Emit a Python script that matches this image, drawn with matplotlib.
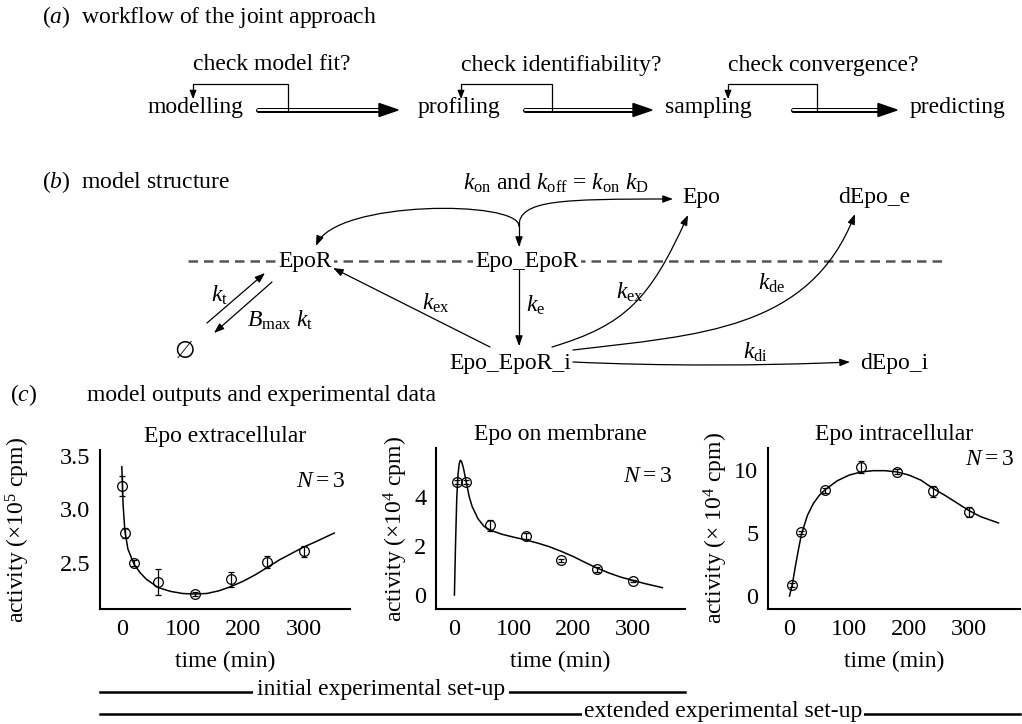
import numpy as np
import matplotlib
matplotlib.use("Agg")
import matplotlib.pyplot as plt
from matplotlib.patches import FancyArrowPatch, Polygon
from matplotlib.path import Path

plt.rcParams['font.family'] = ['Liberation Serif', 'DejaVu Serif']
plt.rcParams['mathtext.fontset'] = 'custom'
plt.rcParams['mathtext.rm'] = 'Liberation Serif'
plt.rcParams['mathtext.it'] = 'Liberation Serif:italic'
plt.rcParams['font.size'] = 17

# ---- data ----
# Epo extracellular (x10^5 cpm)
ext_t = [0, 5, 20, 60, 120, 180, 240, 300]
ext_val = [3.22, 2.78, 2.50, 2.32, 2.21, 2.35, 2.51, 2.61]
ext_err = [0.09, 0.05, 0.03, 0.12, 0.02, 0.07, 0.06, 0.05]
ext_fit_t = [0, 2, 5, 10, 20, 30, 40, 60, 80, 100, 120, 140, 160, 180, 200, 220, 240, 260, 280, 300, 320, 350]
ext_fit = [3.40, 3.05, 2.80, 2.63, 2.49, 2.41, 2.35, 2.27, 2.235, 2.215, 2.21, 2.215, 2.24, 2.28,
           2.33, 2.39, 2.46, 2.53, 2.59, 2.65, 2.70, 2.78]

# Epo on membrane (x10^4 cpm)
mem_t = [5, 20, 60, 120, 180, 240, 300]
mem_val = [4.6, 4.6, 2.85, 2.42, 1.42, 1.05, 0.57]
mem_err = [0.08, 0.08, 0.22, 0.12, 0.06, 0.10, 0.05]
mem_fit_t = [0, 2, 4, 6, 8, 10, 12, 15, 20, 25, 30, 40, 50, 60, 80, 100, 120, 140, 160, 180,
             200, 220, 240, 260, 280, 300, 320, 350]
mem_fit = [0.0, 2.2, 4.0, 4.9, 5.35, 5.5, 5.45, 5.2, 4.6, 4.0, 3.6, 3.1, 2.8, 2.65, 2.48, 2.36,
           2.25, 2.12, 1.97, 1.78, 1.57, 1.33, 1.10, 0.90, 0.73, 0.60, 0.47, 0.30]

# Epo intracellular (x10^4 cpm)
int_t = [5, 20, 60, 120, 180, 240, 300]
int_val = [0.9, 5.05, 8.4, 10.25, 9.85, 8.3, 6.65]
int_err = [0.15, 0.15, 0.2, 0.45, 0.2, 0.45, 0.4]
int_fit_t = [0, 5, 10, 15, 20, 30, 40, 50, 60, 80, 100, 120, 140, 160, 180, 200, 220, 240,
             260, 280, 300, 320, 350]
int_fit = [0.0, 1.0, 2.4, 3.7, 4.9, 6.4, 7.35, 8.0, 8.45, 9.15, 9.6, 9.85, 9.95, 9.95, 9.85,
           9.6, 9.2, 8.55, 8.0, 7.4, 6.8, 6.3, 5.8]

workflow_steps = ['modelling', 'profiling', 'sampling', 'predicting']
workflow_checks = ['check model fit?', 'check identifiability?', 'check convergence?']

W, H = 1022, 724
fig = plt.figure(figsize=(W / 100, H / 100), dpi=100)
bg = fig.add_axes([0, 0, 1, 1])
bg.set_xlim(0, W)
bg.set_ylim(H, 0)
bg.axis('off')


def arrow(verts, codes=None, hl=6, hw=2.2, lw=0.9):
    if codes is None:
        codes = [Path.MOVETO] + [Path.LINETO] * (len(verts) - 1)
    a = FancyArrowPatch(path=Path(verts, codes),
                        arrowstyle='-|>,head_length=%g,head_width=%g' % (hl, hw),
                        color='k', lw=lw, zorder=5)
    bg.add_patch(a)


def curve(p0, p1, p2, p3, **kw):
    arrow([p0, p1, p2, p3], [Path.MOVETO, Path.CURVE4, Path.CURVE4, Path.CURVE4], **kw)


def double_arrow(x0, x1, y):
    bg.plot([x0, x1 - 14], [y, y], color='k', lw=3.6, solid_capstyle='round', zorder=2)
    bg.plot([x0, x1 - 14], [y, y], color='white', lw=1.4, solid_capstyle='round', zorder=3)
    bg.add_patch(Polygon([[x1 - 19, y - 6.5], [x1, y], [x1 - 19, y + 6.5]], closed=True,
                         color='k', zorder=4))


# ---- (a) workflow ----
bg.text(42, 17, '($a$)  workflow of the joint approach', va='center', ha='left')
step_x = [195, 459, 708, 958]
for name, x in zip(workflow_steps, step_x):
    bg.text(x, 108, name, ha='center', va='center')
arrows_a = [(258, 398), (525, 652), (793, 897)]
fb_a = [(288, 193), (552, 461), (817, 728)]
for (x0, x1), (xv, xl), lab in zip(arrows_a, fb_a, workflow_checks):
    double_arrow(x0, x1, 110)
    arrow([(xv, 110), (xv, 84), (xl, 84), (xl, 99)], hl=5, hw=2, lw=0.9)
    bg.text(xl, 65, lab, ha='left', va='center')

# ---- (b) model structure ----
bg.text(42, 182, '($b$)  model structure', va='center', ha='left')
bg.plot([188, 945], [261, 261], color='#555555', lw=1.8, dashes=(3.8, 2.4), zorder=1)
box = dict(fc='white', ec='none', pad=1.5)
bg.text(305, 261, 'EpoR', ha='center', va='center', bbox=box, zorder=3)
bg.text(527, 261, 'Epo_EpoR', ha='center', va='center', bbox=box, zorder=3)
bg.text(510, 363, 'Epo_EpoR_i', ha='center', va='center', zorder=3)
bg.text(682, 197, 'Epo', ha='left', va='center')
bg.text(838, 197, 'dEpo_e', ha='left', va='center')
bg.text(860, 363, 'dEpo_i', ha='left', va='center')
bg.text(185, 352, '\u2205', ha='center', va='center', family=['DejaVu Serif', 'DejaVu Sans'])
bg.text(556, 183, r'$k_{\rm on}$ and $k_{\rm off}$ = $k_{\rm on}\ k_{\rm D}$', ha='center', va='center')

curve((519, 226), (519, 200), (335, 200), (316, 246))
curve((519, 226), (519, 200), (560, 199), (673, 199))
arrow([(519, 222), (519, 247)])
arrow([(519, 270), (519, 346)])
bg.text(526, 305, r'$k_{\rm e}$', ha='left', va='center')
arrow([(490, 347), (333, 268)])
bg.text(436, 303, r'$k_{\rm ex}$', ha='center', va='center')
arrow([(207, 323), (265, 273)])
arrow([(272, 282), (214, 333)])
bg.text(219, 295, r'$k_{\rm t}$', ha='center', va='center')
bg.text(247, 320, r'$B_{\rm max}\ k_{\rm t}$', ha='left', va='center')
curve((552, 347), (625, 325), (650, 300), (688, 215))
bg.text(630, 292, r'$k_{\rm ex}$', ha='center', va='center')
curve((573, 350), (700, 335), (810, 330), (855, 214))
bg.text(772, 283, r'$k_{\rm de}$', ha='center', va='center')
curve((573, 362), (660, 366), (760, 366), (850, 362))
bg.text(755, 352, r'$k_{\rm di}$', ha='center', va='center')

# ---- (c) model outputs ----
bg.text(10, 395, '($c$)', ha='left', va='center')
bg.text(87, 395, 'model outputs and experimental data', ha='left', va='center')


def px_rect(l, t, r, b):
    return [l / W, 1 - b / H, (r - l) / W, (b - t) / H]


panels = [
    dict(rect=(100, 450, 350, 609), t=ext_t, v=ext_val, e=ext_err, ft=ext_fit_t, f=ext_fit,
         xlim=(-36, 376), ylim=(2.07, 3.556), yt=[2.5, 3.0, 3.5], fmt='%.1f',
         title='Epo extracellular', ylab='activity (×10$^5$ cpm)', ylx=-0.27, n=(0.98, 0.80)),
    dict(rect=(436, 448, 685, 609), t=mem_t, v=mem_val, e=mem_err, ft=mem_fit_t, f=mem_fit,
         xlim=(-31, 388), ylim=(-0.57, 6.0), yt=[0, 2, 4], fmt='%d',
         title='Epo on membrane', ylab='activity (×10$^4$ cpm)', ylx=-0.105, n=(0.948, 0.82)),
    dict(rect=(768, 448, 1020, 609), t=int_t, v=int_val, e=int_err, ft=int_fit_t, f=int_fit,
         xlim=(-36, 386), ylim=(-1.03, 11.75), yt=[0, 5, 10], fmt='%d',
         title='Epo intracellular', ylab='activity (× 10$^4$ cpm)', ylx=-0.15, n=(0.976, 0.93)),
]

for p in panels:
    ax = fig.add_axes(px_rect(*p['rect']))
    ax.plot(p['ft'], p['f'], color='k', lw=1.1)
    ax.errorbar(p['t'], p['v'], yerr=p['e'], fmt='o', mfc='none', mec='k', ms=7,
                mew=0.9, ecolor='k', elinewidth=0.9, capsize=2, capthick=0.9)
    ax.set_xlim(*p['xlim'])
    ax.set_ylim(*p['ylim'])
    ax.set_xticks([0, 100, 200, 300])
    ax.set_yticks(p['yt'])
    ax.set_yticklabels([p['fmt'] % v for v in p['yt']])
    ax.tick_params(length=0, pad=7, labelsize=17.5)
    for s in ['top', 'right']:
        ax.spines[s].set_visible(False)
    for s in ['left', 'bottom']:
        ax.spines[s].set_linewidth(1.5)
    ax.set_facecolor('none')
    ax.set_title(p['title'], fontsize=17, pad=6)
    ax.set_ylabel(p['ylab'], fontsize=17)
    ax.yaxis.set_label_coords(p['ylx'], 0.5)
    ax.set_xlabel('time (min)', fontsize=17, labelpad=8)
    ax.text(p['n'][0], p['n'][1], r'$N = 3$', transform=ax.transAxes, ha='right', va='center')

# ---- bottom set-up bars ----
bg.plot([100, 685], [692, 692], color='k', lw=1.8, zorder=2)
bg.text(381, 690, 'initial experimental set-up', ha='center', va='center',
        bbox=dict(fc='white', ec='none', pad=2.5), zorder=3)
bg.plot([100, 1020], [714, 714], color='k', lw=1.8, zorder=2)
bg.text(723, 712, 'extended experimental set-up', ha='center', va='center',
        bbox=dict(fc='white', ec='none', pad=1.5), zorder=3)

fig.savefig('out.png', dpi=100)
